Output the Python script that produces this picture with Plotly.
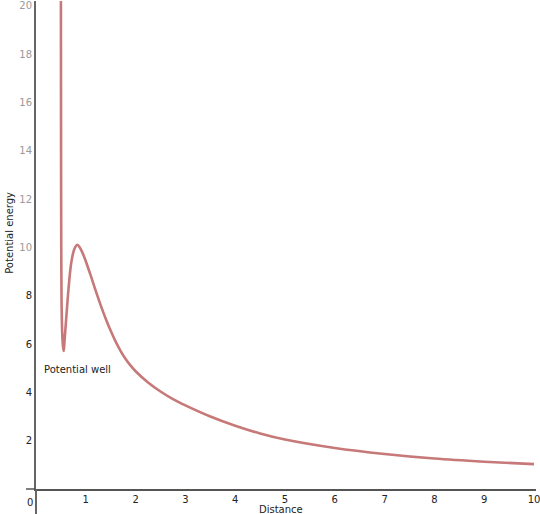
import plotly.graph_objects as go

# Values
distance = [0.500, 0.503, 0.507, 0.512, 0.520, 0.532, 0.545, 0.558,
            0.572, 0.590, 0.610, 0.630, 0.650, 0.670, 0.700, 0.740, 0.780, 0.830,
            0.880, 0.940, 1.000, 1.100, 1.200, 1.300, 1.400, 1.500, 1.600,
            1.700, 1.800, 1.900, 2.000, 2.250, 2.500, 2.750, 3.000, 3.500,
            4.000, 4.500, 5.000, 6.000, 7.000, 8.000, 9.000, 10.000]
energy = [20.6, 14.0, 10.0, 8.0, 6.9, 6.2, 5.85, 5.71,
          6.1, 6.6, 7.15, 7.7, 8.22, 8.68, 9.25, 9.72, 9.98, 10.11,
          10.0, 9.75, 9.43, 8.83, 8.2, 7.6, 7.05, 6.55, 6.1,
          5.71, 5.38, 5.105, 4.875, 4.41, 4.035, 3.72, 3.46, 3.0,
          2.62, 2.3, 2.05, 1.7, 1.45, 1.26, 1.13, 1.03]

x_ticks = [1, 2, 3, 4, 5, 6, 7, 8, 9, 10]
y_ticks = [2, 4, 6, 8, 10, 12, 14, 16, 18, 20]
y_tick_colors = ["#222", "#222", "#222", "#222", "#9a9a9a", "#9a9a9a",
                 "#9a9a9a", "#9a9a9a", "#9a9a9a", "#9a9a9a"]

FONT = "DejaVu Sans, Verdana, sans-serif"

fig = go.Figure()
fig.add_trace(go.Scatter(
    x=distance, y=energy, mode="lines",
    line=dict(color="#c77878", width=2.6, shape="spline", smoothing=0.7),
    hoverinfo="skip", showlegend=False,
))

fig.update_layout(
    width=540, height=514,
    margin=dict(l=36, r=0, t=0, b=25),
    paper_bgcolor="white", plot_bgcolor="white",
    font=dict(family=FONT, size=10, color="#222"),
    xaxis=dict(range=[0, 10.04], tickvals=x_ticks, ticktext=[str(v) for v in x_ticks],
               showgrid=False, zeroline=False, showline=True,
               linecolor="#555", linewidth=1.5, ticks="", ticklabeloverflow="allow",
               tickfont=dict(family=FONT, size=10, color="#222")),
    yaxis=dict(range=[0, 20.2], tickvals=y_ticks,
               ticktext=[f'<span style="color:{c}">{v}</span>' for v, c in zip(y_ticks, y_tick_colors)],
               showgrid=False, zeroline=False, showline=True,
               linecolor="#666", linewidth=2, ticks="", ticklabeloverflow="allow",
               tickfont=dict(family=FONT, size=10, color="#222")),
    shapes=[
        dict(type="line", xref="paper", yref="paper", x0=0, x1=0, y0=0, y1=-0.06,
             line=dict(color="#666", width=2)),
        dict(type="line", xref="paper", yref="paper", x0=-0.02, x1=0, y0=0, y1=0,
             line=dict(color="#555", width=1.5)),
    ],
    annotations=[
        dict(text="0", xref="paper", yref="paper", x=-0.012, y=-0.012,
             xanchor="center", yanchor="top", showarrow=False,
             font=dict(family=FONT, size=10, color="#222")),
        dict(text="Potential well", xref="x", yref="y", x=0.12, y=4.95,
             xanchor="left", yanchor="middle", showarrow=False,
             font=dict(family=FONT, size=10, color="#222")),
        dict(text="Distance", xref="paper", yref="paper", x=0.49, y=-0.0419,
             xanchor="center", yanchor="middle", showarrow=False,
             font=dict(family=FONT, size=10, color="#222")),
        dict(text="Potential energy", xref="paper", yref="paper", x=-0.052, y=0.525,
             xanchor="center", yanchor="middle", showarrow=False, textangle=-90,
             font=dict(family=FONT, size=10, color="#222")),
    ],
)

fig.write_html("out.html", config={"displayModeBar": False},
               post_script="document.body.style.margin='0px';document.body.style.overflow='hidden';")
